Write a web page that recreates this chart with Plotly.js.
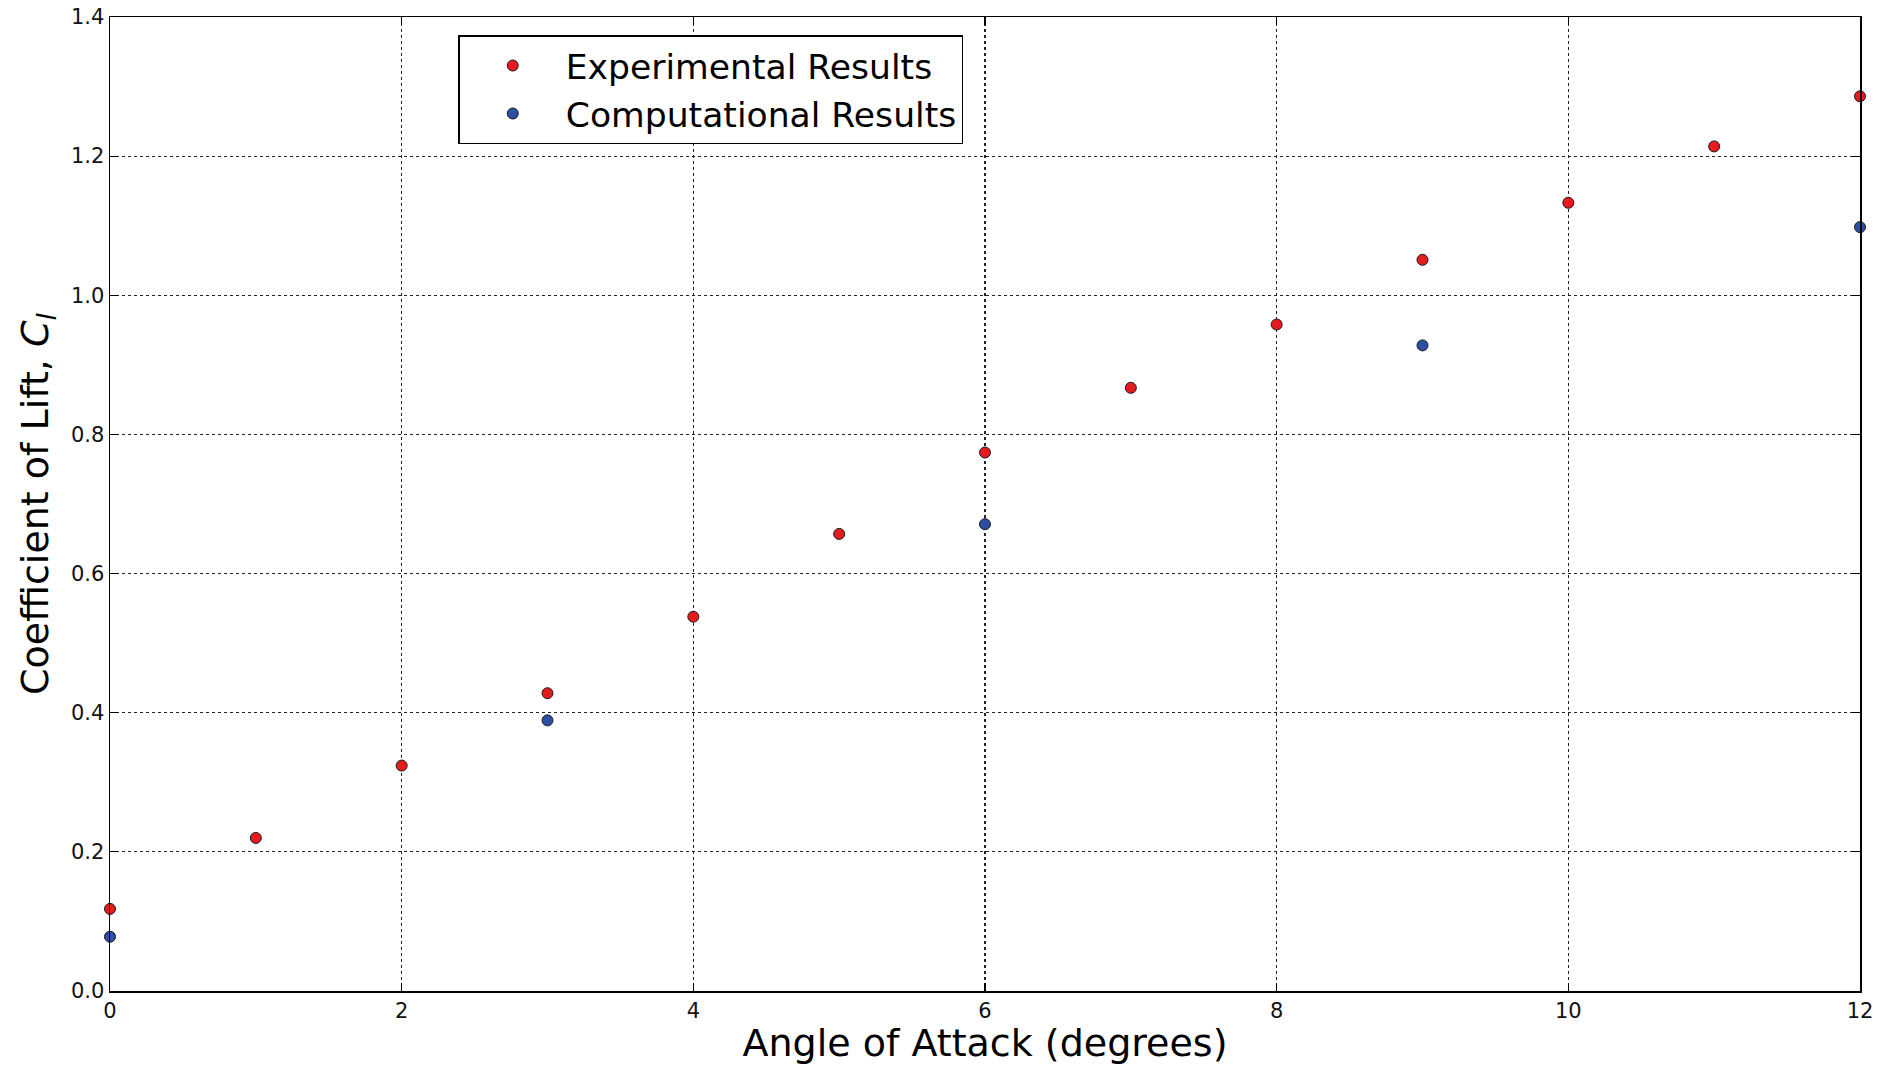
<!DOCTYPE html>
<html>
<head>
<meta charset="utf-8">
<script src="https://cdn.plot.ly/plotly-3.0.1.min.js"></script>
<style>html,body{margin:0;padding:0;background:#fff;}#chart{width:1893px;height:1065px;}</style>
</head>
<body>
<div id="chart"></div>
<script>
// Data
const expAngles = [0, 1, 2, 3, 4, 5, 6, 7, 8, 9, 10, 11, 12];
const expCl = [0.118, 0.220, 0.324, 0.428, 0.538, 0.657, 0.774, 0.867, 0.958, 1.051, 1.133, 1.214, 1.286];
const compAngles = [0, 3, 6, 9, 12];
const compCl = [0.078, 0.389, 0.671, 0.928, 1.098];
const xTicks = [0, 2, 4, 6, 8, 10, 12];
const yTicks = [0.0, 0.2, 0.4, 0.6, 0.8, 1.0, 1.2, 1.4];

const font = "DejaVu Sans, sans-serif";
const traces = [
  {x: expAngles, y: expCl, mode: 'markers', type: 'scatter', name: 'Experimental Results',
   marker: {color: '#e51b20', size: 11, line: {color: '#1a1a1a', width: 1}}, cliponaxis: false},
  {x: compAngles, y: compCl, mode: 'markers', type: 'scatter', name: 'Computational Results',
   marker: {color: '#2b4fa2', size: 11, line: {color: '#1a1a1a', width: 1}}, cliponaxis: false}
];
const axisCommon = {
  showline: true, linecolor: '#000', linewidth: 1.5, mirror: 'ticks',
  ticks: 'inside', ticklen: 8, tickwidth: 1.2, tickcolor: '#000',
  showgrid: true, gridcolor: '#222', gridwidth: 1.2, griddash: '3px,3px',
  zeroline: false, tickfont: {family: font, size: 21, color: '#111'}
};
const layout = {
  width: 1893, height: 1065,
  paper_bgcolor: '#fff', plot_bgcolor: '#fff',
  margin: {l: 110, r: 33, t: 17, b: 74},
  font: {family: font},
  xaxis: Object.assign({}, axisCommon, {
    range: [0, 12], tickvals: xTicks, ticktext: xTicks.map(String),
    title: {text: 'Angle of Attack (degrees)', font: {family: font, size: 38, color: '#000'}, standoff: 2}
  }),
  yaxis: Object.assign({}, axisCommon, {
    range: [0, 1.4], tickvals: yTicks, ticktext: yTicks.map(v => v.toFixed(1)),
    title: {text: 'Coefficient of Lift, <i>C</i><sub><i>l</i></sub>', font: {family: font, size: 38, color: '#000'}, standoff: 10}
  }),
  showlegend: true,
  legend: {x: 0.199, y: 0.9815, xanchor: 'left', yanchor: 'top',
    bgcolor: '#fff', bordercolor: '#000', borderwidth: 1.5,
    font: {family: font, size: 34.6, color: '#000'}, itemwidth: 96, tracegroupgap: 6}
};
Plotly.newPlot('chart', traces, layout, {displayModeBar: false, staticPlot: true});
</script>
</body>
</html>
